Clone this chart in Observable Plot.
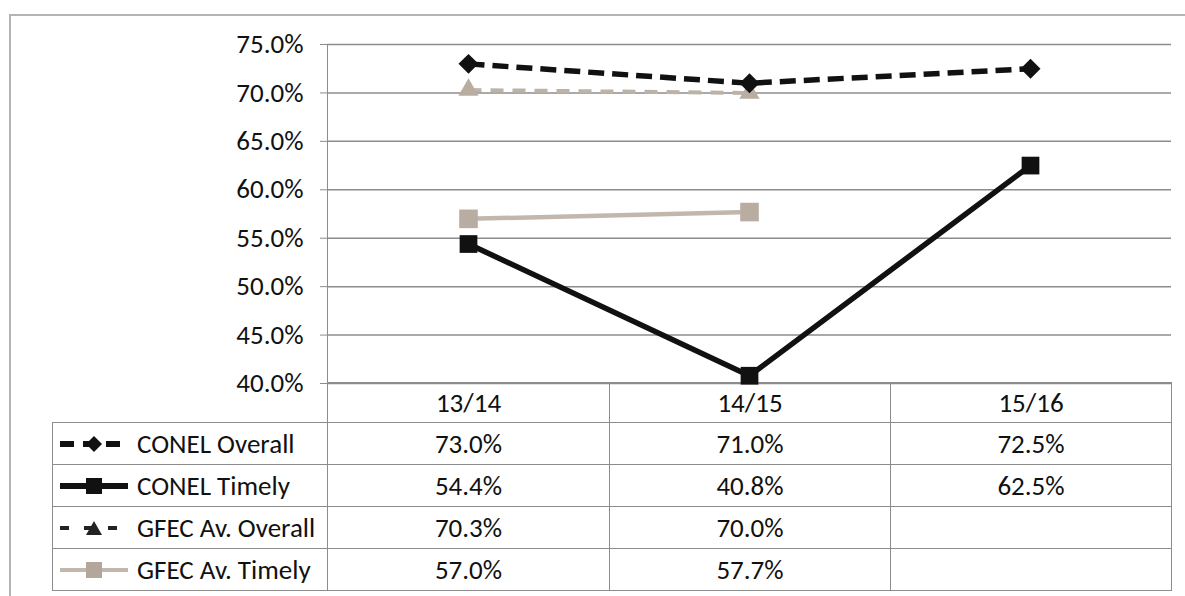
<!DOCTYPE html>
<html>
<head>
<meta charset="utf-8">
<script src="https://cdn.jsdelivr.net/npm/d3@7"></script>
<script src="https://cdn.jsdelivr.net/npm/@observablehq/plot@0.6"></script>
<style>
  html, body { margin: 0; padding: 0; background: #fff; }
  #wrap { position: relative; width: 1185px; height: 596px; overflow: hidden; background: #fff;
          font-family: Carlito, Calibri, Lato, sans-serif; color: #111; }
  #frame { position: absolute; left: 9px; top: 14px; width: 1200px; height: 620px;
           border-left: 2px solid #b4b4b4; border-top: 2px solid #b4b4b4; }
  #chart { position: absolute; left: 0; top: 0; }
  #chart svg text { fill: #111; }
  #tbl { position: absolute; left: 52px; top: 382px; border-collapse: collapse; table-layout: fixed;
         width: 1119px; font-size: 27px; line-height: 1; }
  #tbl td { border: 1.5px solid #8c8c8c; padding: 0; text-align: center; vertical-align: middle; height: 41px; }
  #tbl tr.head td { height: 39px; }
  #tbl td.blank { border-top: none; border-left: none; }
  #tbl td.lab { text-align: left; padding-left: 7px; white-space: nowrap; }
  #tbl td.lab svg { vertical-align: middle; margin-right: 9px; position: relative; top: -2px; }
</style>
</head>
<body>
<div id="wrap">
  <div id="frame"></div>
  <table id="tbl"></table>
  <div id="chart"></div>
</div>
<script>
// ---- data ----
const categories = ["13/14", "14/15", "15/16"];
const seriesNames = ["CONEL Overall", "CONEL Timely", "GFEC Av. Overall", "GFEC Av. Timely"];
const conelOverall = [73.0, 71.0, 72.5];
const conelTimely = [54.4, 40.8, 62.5];
const gfecOverall = [70.3, 70.0, null];
const gfecTimely = [57.0, 57.7, null];
const yTicks = [40, 45, 50, 55, 60, 65, 70, 75];

const seriesValues = [conelOverall, conelTimely, gfecOverall, gfecTimely];

// ---- styles ----
const gridColor = "#8c8c8c";
const styles = {
  "CONEL Overall":    {stroke: "#111", width: 5.5, dash: "16,8", symbol: "diamond2", fill: "#111", r: 9},
  "CONEL Timely":     {stroke: "#111", width: 5.5, dash: null, symbol: "square", fill: "#111", r: 10},
  "GFEC Av. Overall": {stroke: "#bcb2a8", width: 4, dash: "13,9", symbol: "triangle", fill: "#b9ada2", r: 7.5},
  "GFEC Av. Timely":  {stroke: "#c2b7ad", width: 4.5, dash: null, symbol: "square", fill: "#b9ada2", r: 10.5}
};
const swatchStyle = {
  "CONEL Overall":    {stroke: "#111", fill: "#111", dash: "14,9", w: 6, shape: "diamond"},
  "CONEL Timely":     {stroke: "#111", fill: "#111", dash: null, w: 6, shape: "square"},
  "GFEC Av. Overall": {stroke: "#222", fill: "#222", dash: "9,15", w: 4, shape: "triangle"},
  "GFEC Av. Timely":  {stroke: "#c2b7ad", fill: "#b3a79c", dash: null, w: 4, shape: "square"}
};

// ---- chart ----
const drawOrder = [2, 3, 0, 1];
const marks = [Plot.ruleY(yTicks, {stroke: gridColor, strokeWidth: 1.5})];
for (const k of drawOrder) {
  const name = seriesNames[k];
  const s = styles[name];
  const rows = categories.map((c, i) => ({cat: c, v: seriesValues[k][i]})).filter(d => d.v != null);
  marks.push(Plot.line(rows, {x: "cat", y: "v", stroke: s.stroke, strokeWidth: s.width,
    strokeDasharray: s.dash || undefined, strokeLinecap: "butt"}));
  marks.push(Plot.dot(rows, {x: "cat", y: "v", symbol: s.symbol, fill: s.fill, stroke: "none", r: s.r}));
}

const chart = Plot.plot({
  width: 1185,
  height: 392,
  marginTop: 44,
  marginBottom: 9,
  marginLeft: 327,
  marginRight: 14,
  style: {fontFamily: "Carlito, Calibri, Lato, sans-serif", fontSize: "27px", color: gridColor, background: "transparent", overflow: "visible"},
  x: {type: "point", domain: categories, padding: 0.5, axis: null},
  y: {domain: [40, 75], ticks: yTicks, tickFormat: d => d.toFixed(1) + "%", tickSize: 7, tickPadding: 17, line: true, label: null},
  marks
});
document.getElementById("chart").appendChild(chart);

// ---- data table ----
function swatch(name) {
  const s = swatchStyle[name];
  const W = 68, H = 22, cy = 11, cx = 34;
  let shape = "";
  if (s.shape === "diamond") shape = `<path d="M${cx},${cy-8} L${cx+8},${cy} L${cx},${cy+8} L${cx-8},${cy} Z" fill="${s.fill}"/>`;
  if (s.shape === "square") shape = `<rect x="${cx-8}" y="${cy-8}" width="16" height="16" fill="${s.fill}"/>`;
  if (s.shape === "triangle") shape = `<path d="M${cx},${cy-7} L${cx+8},${cy+7} L${cx-8},${cy+7} Z" fill="${s.fill}"/>`;
  const dash = s.dash ? `stroke-dasharray="${s.dash}"` : "";
  return `<svg width="${W}" height="${H}"><line x1="0" y1="${cy}" x2="${W}" y2="${cy}" stroke="${s.stroke}" stroke-width="${s.w}" ${dash}/>${shape}</svg>`;
}
const tbl = document.getElementById("tbl");
let html = `<colgroup><col style="width:275px"><col style="width:282px"><col style="width:281px"><col style="width:281px"></colgroup>`;
html += `<tr class="head"><td class="blank"></td>${categories.map(c => `<td>${c}</td>`).join("")}</tr>`;
seriesNames.forEach((name, k) => {
  html += `<tr><td class="lab">${swatch(name)}${name}</td>` +
    seriesValues[k].map(v => `<td>${v == null ? "" : v.toFixed(1) + "%"}</td>`).join("") + `</tr>`;
});
tbl.innerHTML = html;
</script>
</body>
</html>
